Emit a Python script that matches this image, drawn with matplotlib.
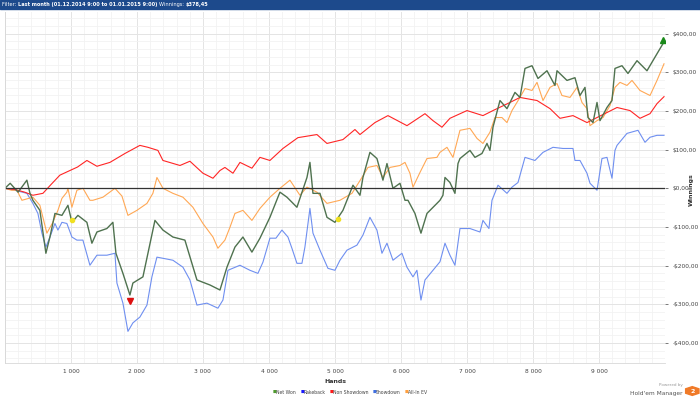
import matplotlib.pyplot as plt
from matplotlib.ticker import FuncFormatter, MultipleLocator
from matplotlib.patches import Rectangle, RegularPolygon

# hands / winnings
non_sd_x = [0, 150, 300, 424, 576, 700, 833, 985, 1100, 1242, 1394, 1591, 1818, 2045, 2167, 2318,
            2394, 2652, 2803, 3000, 3152, 3258, 3333, 3455, 3561, 3742, 3864, 4015, 4212, 4439, 4727,
            4879, 5121, 5303, 5379, 5606, 5803, 6091, 6364, 6485, 6621, 6742, 7000, 7242, 7394, 7652,
            7803, 8061, 8258, 8409, 8606, 8818, 8970, 9273, 9470, 9621, 9773, 9879, 9985]
non_sd_y = [0, -3, -10, -18, -13, 10, 34, 46, 55, 72, 57, 67, 90, 111, 106, 98,
            72, 59, 70, 39, 26, 46, 54, 39, 67, 52, 80, 72, 103, 131, 139,
            116, 126, 152, 139, 170, 188, 162, 193, 175, 158, 181, 201, 188, 201, 222,
            235, 227, 206, 181, 188, 170, 183, 209, 201, 181, 193, 219, 237]

net_x = [0, 80, 200, 333, 380, 424, 530, 621, 682, 758, 864, 955, 1015, 1106, 1242, 1318, 1394,
         1545, 1636, 1682, 1788, 1894, 1939, 2091, 2167, 2273, 2394, 2545, 2727, 2909, 3106, 3258,
         3364, 3485, 3606, 3742, 3864, 4015, 4136, 4167, 4273, 4424, 4576, 4621, 4667, 4773, 4879,
         5000, 5121, 5182, 5273, 5379, 5424, 5530, 5636, 5727, 5788, 5879, 5985, 6061, 6106, 6212,
         6303, 6394, 6545, 6591, 6636, 6667, 6742, 6818, 6864, 6894, 7045, 7121, 7227, 7303, 7348,
         7394, 7500, 7606, 7727, 7803, 7879, 7985, 8076, 8212, 8333, 8364, 8515, 8636, 8712, 8788,
         8833, 8909, 8970, 9015, 9121, 9197, 9242, 9348, 9439, 9576, 9727, 9879, 9985]
net_y = [0, 13, -10, 21, -13, -31, -57, -168, -126, -65, -70, -44, -88, -70, -88, -142, -113,
         -104, -88, -168, -220, -276, -245, -229, -168, -83, -108, -126, -134, -237, -250, -263,
         -204, -152, -126, -165, -129, -75, -23, -10, -23, -49, 28, 67, -13, -13, -75,
         -88, -57, -31, 8, -18, 28, 93, 77, 21, 64, 0, 13, -31, -31, -65,
         -116, -65, -39, -31, -18, 28, 15, -13, 64, 77, 98, 80, 90, 116, 98,
         158, 227, 206, 248, 235, 310, 317, 284, 304, 266, 304, 279, 286, 240, 261,
         183, 170, 222, 175, 209, 227, 310, 317, 297, 330, 304, 348, 378.45]

ev_x = [0, 100, 182, 258, 424, 530, 636, 720, 803, 864, 939, 955, 1015, 1091, 1182, 1288, 1333,
        1485, 1667, 1773, 1864, 2000, 2152, 2242, 2303, 2394, 2545, 2697, 2848, 3000, 3152, 3227,
        3333, 3409, 3485, 3606, 3742, 3864, 4015, 4167, 4318, 4470, 4576, 4727, 4879, 5076, 5258,
        5409, 5500, 5636, 5727, 5833, 5985, 6061, 6136, 6182, 6288, 6394, 6545, 6591, 6697, 6788,
        6894, 7045, 7152, 7242, 7348, 7424, 7530, 7606, 7682, 7803, 7879, 7985, 8061, 8152, 8258,
        8364, 8439, 8561, 8667, 8742, 8818, 8864, 8970, 9061, 9167, 9242, 9318, 9424, 9500, 9621,
        9773, 9879, 9985]
ev_y = [0, -5, -5, -31, -23, -44, -116, -90, -57, -26, -10, 0, -49, -5, 0, -31, -31,
        -23, 0, -20, -70, -57, -39, -13, 28, 0, -13, -23, -49, -91, -126, -155,
        -134, -101, -65, -57, -83, -52, -23, 0, 21, -18, 3, -10, -39, -31, -13,
        28, 54, 59, 28, 54, 59, 67, 39, 3, 41, 77, 80, 93, 106, 80,
        150, 155, 129, 116, 145, 183, 183, 170, 201, 235, 258, 253, 274, 227, 261,
        271, 240, 235, 261, 222, 206, 162, 175, 183, 214, 261, 274, 266, 279, 253,
        240, 279, 322]

sd_x = [0, 150, 333, 424, 500, 561, 621, 682, 758, 803, 864, 939, 1015, 1091, 1182, 1288, 1394,
        1545, 1667, 1697, 1788, 1864, 1939, 2045, 2152, 2227, 2303, 2394, 2545, 2697, 2803, 2909,
        3061, 3227, 3303, 3379, 3561, 3712, 3833, 3909, 4015, 4106, 4197, 4288, 4348, 4424, 4500,
        4545, 4621, 4667, 4773, 4894, 5000, 5076, 5182, 5333, 5424, 5530, 5636, 5712, 5788, 5879,
        6015, 6091, 6182, 6242, 6303, 6364, 6485, 6591, 6667, 6742, 6818, 6894, 7045, 7197, 7242,
        7333, 7379, 7470, 7606, 7682, 7773, 7879, 8030, 8152, 8303, 8455, 8606, 8636, 8712, 8818,
        8864, 8970, 9045, 9121, 9197, 9242, 9273, 9424, 9591, 9697, 9773, 9879, 9985]
sd_y = [0, -5, -13, -39, -65, -116, -152, -126, -91, -108, -88, -91, -126, -134, -134, -199, -173,
        -173, -168, -245, -297, -370, -348, -333, -302, -229, -178, -181, -186, -204, -237, -302,
        -297, -310, -289, -212, -199, -212, -220, -191, -129, -129, -108, -126, -155, -194, -194,
        -152, -52, -116, -160, -207, -212, -186, -160, -147, -121, -75, -108, -168, -142, -186,
        -168, -204, -229, -212, -289, -237, -212, -190, -142, -173, -199, -104, -104, -113, -83,
        -104, -31, 8, -13, 3, 15, 80, 72, 93, 106, 103, 103, 72, 72, 39,
        13, -5, 77, 80, 26, 98, 111, 142, 150, 119, 132, 137, 137]

legend_names = ['Net Won', 'Rakeback', 'Non Showdown', 'Showdown', 'All-In EV']
legend_colors = ['#4f9a2f', '#1a1aff', '#ff1a1a', '#3f6fe0', '#ffa040']

W, H = 700, 399
fig = plt.figure(figsize=(7, 3.99), dpi=100)
ax = fig.add_axes([0.007, 0.09, 0.943, 0.88])

ax.plot(sd_x, sd_y, color='#6f8ff0', lw=0.8)
ax.plot(ev_x, ev_y, color='#ffa855', lw=0.8)
ax.plot(non_sd_x, non_sd_y, color='#ff2525', lw=0.8)
ax.plot(net_x, net_y, color='#4f724f', lw=1.0)
ax.axhline(0, color='#333333', lw=0.9)

# markers on the net won line
ax.plot([1015, 5040], [-82, -80], 'o', color='#f0e020', ms=3)
ax.plot([1900], [-292], 'v', color='#dd1010', ms=4)
ax.plot([9975], [383], '^', color='#1a8a1a', ms=4)

ax.set_xlim(0, 10000)
ax.set_ylim(-452, 456)
ax.xaxis.set_major_locator(MultipleLocator(1000))
ax.xaxis.set_minor_locator(MultipleLocator(200))
ax.yaxis.set_major_locator(MultipleLocator(100))
ax.yaxis.set_minor_locator(MultipleLocator(20))
ax.grid(which='minor', color='#f2f2f2', lw=0.6)
ax.grid(which='major', color='#e4e4e4', lw=0.7)
ax.set_axisbelow(True)
ax.xaxis.set_major_formatter(FuncFormatter(
    lambda v, p: '' if v <= 0 or v >= 10000 else f'{int(v):,}'.replace(',', ' ')))

def money(v, p):
    s = f'${abs(v):.2f}'.replace('.', ',')
    return '-' + s if v < 0 else s

ax.yaxis.set_major_formatter(FuncFormatter(money))
ax.yaxis.tick_right()
ax.tick_params(axis='both', which='major', labelsize=4.2, colors='#444444', length=2, width=0.5)
ax.tick_params(axis='both', which='minor', length=0)
ax.tick_params(axis='x', length=0, pad=4)
for s in ['top', 'right']:
    ax.spines[s].set_visible(False)
for s in ['left', 'bottom']:
    ax.spines[s].set_color('#d8d8d8')
    ax.spines[s].set_linewidth(0.6)

ax.set_xlabel('Hands', fontsize=4.5, fontweight='bold', color='#333333', labelpad=4)
fig.text(0.987, 0.525, 'Winnings', rotation=90, fontsize=4.5, fontweight='bold',
         color='#333333', ha='center', va='center')

# header bar
fig.patches.append(Rectangle((0, 0.978), 1, 0.022, transform=fig.transFigure,
                             color='#1d4a8c', zorder=0))
hdr = [('Filter: ', 'normal'), ('Last month (01.12.2014 9:00 to 01.01.2015 9:00) ', 'bold'),
       ('Winnings: ', 'normal'), ('$378,45', 'bold')]
tx = 0.003
for txt, w in hdr:
    t = fig.text(tx, 0.989, txt, fontsize=3.6, color='white', fontweight=w, va='center')
    fig.canvas.draw()
    bb = t.get_window_extent()
    tx += bb.width / fig.bbox.width

# legend laid out left to right from the measured text widths
px = 273
ly = 1 - 392 / H
for name, c in zip(legend_names, legend_colors):
    fig.text(px / W, ly, '\u25a0', fontsize=3.0, color=c, va='center')
    t = fig.text((px + 3.5) / W, ly, name, fontsize=3.3, color='#444444', va='center')
    fig.canvas.draw()
    px += 3.5 + t.get_window_extent().width + 4

# powered by logo
fig.text(0.975, 0.035, 'Powered by', fontsize=3.0, color='#999999', ha='right', va='center')
fig.text(0.975, 0.015, "Hold'em Manager", fontsize=4.2, color='#555555', ha='right', va='center')
fig.patches.append(RegularPolygon((0.989, 0.02), 6, radius=0.011, transform=fig.transFigure,
                                  color='#f07a28'))
fig.text(0.989, 0.02, '2', fontsize=4.5, color='white', fontweight='bold', ha='center', va='center')

fig.savefig('out.png', dpi=100, facecolor='white')
